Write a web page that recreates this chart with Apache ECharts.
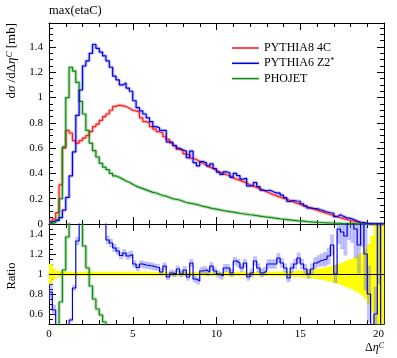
<!DOCTYPE html>
<html><head><meta charset="utf-8">
<script src="https://cdn.jsdelivr.net/npm/echarts@6/dist/echarts.min.js"></script>
<style>html,body{margin:0;padding:0;background:#fff}#c{width:397px;height:358px}</style>
</head><body><div id="c"></div>
<script>
// Binning: 100 bins of width 0.2 on Δη^C in [0, 20]
const binWidth = 0.2;
const nBins = 100;

const xTicks = [0, 5, 10, 15, 20];
const seriesNames = ['PYTHIA8 4C', 'PYTHIA6 Z2*', 'PHOJET'];

// PYTHIA8 4C (reference for the ratio)
const red = [
  0.02, 0.04, 0.09, 0.31, 0.60, 0.74, 0.72, 0.66, 0.64, 0.66, 0.68, 0.70, 0.73, 0.77, 0.79, 0.82, 0.85, 0.87, 0.90, 0.93,
  0.94, 0.935, 0.93, 0.915, 0.90, 0.895, 0.885, 0.84, 0.81, 0.80, 0.77, 0.75, 0.73, 0.72, 0.69, 0.67, 0.64, 0.62, 0.59, 0.58,
  0.555, 0.54, 0.52, 0.51, 0.495, 0.48, 0.465, 0.45, 0.44, 0.425, 0.41, 0.40, 0.39, 0.38, 0.365, 0.355, 0.345, 0.335, 0.325, 0.31,
  0.30, 0.29, 0.278, 0.265, 0.255, 0.243, 0.232, 0.222, 0.212, 0.205, 0.196, 0.186, 0.175, 0.165, 0.155, 0.145, 0.136, 0.127, 0.118, 0.110,
  0.100, 0.092, 0.083, 0.075, 0.066, 0.058, 0.050, 0.042, 0.035, 0.028, 0.022, 0.016, 0.011, 0.007, 0.004, 0.002, 0.001, 0.0005, 0.0002, 0.0001
];
// PYTHIA6 Z2*
const blue = [
  0.016, 0.026, 0.03, 0.05, 0.11, 0.21, 0.38, 0.57, 0.86, 1.06, 1.25, 1.29, 1.35, 1.42, 1.39, 1.36, 1.33, 1.29, 1.24, 1.17,
  1.14, 1.10, 1.115, 1.075, 1.05, 0.975, 0.92, 0.895, 0.87, 0.84, 0.81, 0.77, 0.76, 0.74, 0.74, 0.65, 0.645, 0.62, 0.60, 0.585,
  0.577, 0.524, 0.577, 0.485, 0.46, 0.494, 0.484, 0.459, 0.475, 0.438, 0.41, 0.392, 0.413, 0.403, 0.369, 0.401, 0.383, 0.355, 0.361, 0.301,
  0.303, 0.328, 0.295, 0.268, 0.263, 0.267, 0.255, 0.244, 0.246, 0.228, 0.208, 0.179, 0.186, 0.182, 0.180, 0.160, 0.143, 0.127, 0.124, 0.122,
  0.113, 0.105, 0.095, 0.089, 0.085, 0.058, 0.073, 0.060, 0.048, 0.045, 0.035, 0.023, 0.014, 0.012, 0.005, 0.0016, 0.0003, 0.0003, 0.0004, 0.0
];
// PHOJET
const green = [
  0.005, 0.01, 0.03, 0.20, 0.61, 1.00, 1.24, 1.21, 1.12, 0.97, 0.87, 0.74, 0.64, 0.58, 0.53, 0.48, 0.45, 0.43, 0.40, 0.38,
  0.37, 0.355, 0.34, 0.33, 0.315, 0.30, 0.29, 0.28, 0.27, 0.26, 0.25, 0.245, 0.235, 0.225, 0.22, 0.21, 0.20, 0.195, 0.19, 0.18,
  0.17, 0.165, 0.16, 0.155, 0.148, 0.14, 0.135, 0.128, 0.122, 0.117, 0.112, 0.107, 0.102, 0.098, 0.094, 0.09, 0.085, 0.081, 0.077, 0.073,
  0.07, 0.066, 0.062, 0.058, 0.055, 0.052, 0.048, 0.045, 0.041, 0.038, 0.035, 0.032, 0.029, 0.026, 0.024, 0.022, 0.019, 0.017, 0.015, 0.013,
  0.012, 0.010, 0.009, 0.008, 0.007, 0.006, 0.005, 0.004, 0.0035, 0.003, 0.0025, 0.002, 0.0015, 0.001, 0.0008, 0.0006, 0.0004, 0.0003, 0.0002, 0.0001
];
// Ratio panel
const blueRatio = [
  0.82, 0.64, 0.35, 0.20, 0.20, 0.30, 0.54, 0.86, 1.33, 1.60, 1.80, 1.80, 1.80, 1.80, 1.80, 1.70, 1.55, 1.34, 1.31, 1.26,
  1.23, 1.185, 1.21, 1.18, 1.195, 1.10, 1.065, 1.10, 1.09, 1.085, 1.08, 1.07, 1.065, 1.02, 1.08, 0.97, 1.01, 1.00, 1.05, 1.00,
  1.04, 0.97, 1.11, 0.95, 0.93, 1.03, 1.04, 1.02, 1.08, 1.03, 1.00, 0.98, 1.06, 1.06, 1.01, 1.13, 1.11, 1.06, 1.11, 0.97,
  1.01, 1.13, 1.06, 1.01, 1.03, 1.10, 1.10, 1.10, 1.16, 1.11, 1.06, 0.96, 1.06, 1.10, 1.16, 1.10, 1.05, 1.00, 1.05, 1.11,
  1.13, 1.14, 1.15, 1.18, 1.29, 1.00, 1.45, 1.42, 1.38, 1.60, 1.60, 1.45, 1.29, 1.70, 1.20, 0.80, 0.30, 0.60, 1.80, 0.30
];
const greenRatio = [
  0.30, 0.30, 0.30, 0.72, 1.04, 1.37, 1.70, 1.80, 1.75, 1.60, 1.28, 1.06, 0.88, 0.75, 0.65, 0.59, 0.52, 0.47, 0.43, 0.40
];
// relative uncertainty of the reference (yellow band)
const refErr = [
  0.10, 0.05, 0.03, 0.025, 0.02, 0.02, 0.02, 0.02, 0.02, 0.02, 0.02, 0.02, 0.02, 0.02, 0.02, 0.02, 0.02, 0.02, 0.02, 0.02,
  0.02, 0.02, 0.02, 0.02, 0.02, 0.02, 0.02, 0.02, 0.02, 0.02, 0.02, 0.02, 0.02, 0.02, 0.02, 0.02, 0.02, 0.02, 0.02, 0.02,
  0.02, 0.02, 0.02, 0.02, 0.02, 0.02, 0.02, 0.02, 0.02, 0.02, 0.02, 0.02, 0.02, 0.02, 0.02, 0.02, 0.02, 0.02, 0.02, 0.02,
  0.02, 0.02, 0.02, 0.02, 0.02, 0.02, 0.021, 0.021, 0.022, 0.022, 0.023, 0.024, 0.025, 0.027, 0.029, 0.031, 0.034, 0.038, 0.042, 0.046,
  0.05, 0.057, 0.064, 0.072, 0.08, 0.09, 0.10, 0.11, 0.125, 0.14, 0.15, 0.17, 0.19, 0.21, 0.25, 0.30, 0.38, 0.50, 0.60, 0.70
];
// relative uncertainty of PYTHIA6 Z2* (light blue bars in the ratio)
const blueErr = [
  0.10, 0.08, 0.06, 0.05, 0.04, 0.035, 0.03, 0.03, 0.03, 0.03, 0.03, 0.03, 0.03, 0.03, 0.03, 0.03, 0.03, 0.03, 0.03, 0.03,
  0.03, 0.03, 0.03, 0.03, 0.03, 0.03, 0.03, 0.03, 0.03, 0.03, 0.03, 0.03, 0.03, 0.03, 0.03, 0.03, 0.03, 0.03, 0.03, 0.03,
  0.035, 0.035, 0.035, 0.035, 0.035, 0.035, 0.035, 0.035, 0.035, 0.035, 0.035, 0.035, 0.035, 0.035, 0.035, 0.035, 0.035, 0.035, 0.035, 0.035,
  0.04, 0.04, 0.04, 0.04, 0.04, 0.04, 0.04, 0.04, 0.04, 0.04, 0.04, 0.04, 0.045, 0.045, 0.045, 0.045, 0.045, 0.045, 0.05, 0.05,
  0.05, 0.055, 0.06, 0.07, 0.08, 0.09, 0.10, 0.12, 0.14, 0.16, 0.18, 0.20, 0.22, 0.25, 0.30, 0.35, 0.40, 0.45, 0.50, 0.60
];

const edges = [];
for (let i = 0; i <= nBins; i++) edges.push(Math.round(i * binWidth * 10) / 10);

function steps(vals) {
  const d = vals.map((v, i) => [edges[i], v]);
  d.push([edges[vals.length], vals[vals.length - 1]]);
  return d;
}
const yellowData = refErr.map((e, i) => [edges[i], edges[i + 1], 1 - e, 1 + e]);
const blueBandData = blueRatio.map((r, i) => [edges[i], edges[i + 1], r * (1 - blueErr[i]), r * (1 + blueErr[i])]);

function rectItem(fill) {
  return function (params, api) {
    const a = api.coord([api.value(0), api.value(3)]);
    const b = api.coord([api.value(1), api.value(2)]);
    const cs = params.coordSys;
    const shape = echarts.graphic.clipRectByRect(
      { x: a[0], y: a[1], width: b[0] - a[0], height: b[1] - a[1] },
      { x: cs.x, y: cs.y, width: cs.width, height: cs.height });
    if (!shape) return null;
    return { type: 'rect', shape: shape, style: { fill: fill, stroke: fill, lineWidth: 0.4 } };
  };
}

const FONT = 'Liberation Serif';
const tickStyle = { color: '#000', width: 1 };
function xAx(grid, pos, labels) {
  return {
    type: 'value', gridIndex: grid, position: pos, min: 0, max: 20, interval: 5,
    axisLine: { show: true, onZero: false, lineStyle: { color: '#000', width: 1 } },
    axisTick: { show: true, inside: true, length: 7, lineStyle: tickStyle },
    minorTick: { show: true, splitNumber: 5, length: 4, lineStyle: tickStyle },
    axisLabel: { show: labels, fontFamily: FONT, fontSize: 11, color: '#000', margin: 5, alignMaxLabel: 'right',
      formatter: v => (xTicks.indexOf(v) >= 0 ? String(v) : '') },
    splitLine: { show: false }, minorSplitLine: { show: false }
  };
}
function yAx(grid, pos, labels, extra) {
  return Object.assign({
    type: 'value', gridIndex: grid, position: pos,
    axisLine: { show: true, onZero: false, lineStyle: { color: '#000', width: 1 } },
    axisTick: { show: true, inside: true, length: 7, lineStyle: tickStyle },
    minorTick: { show: true, splitNumber: 4, length: 4, lineStyle: tickStyle },
    axisLabel: { show: labels, fontFamily: FONT, fontSize: 11, color: '#000', margin: 6, showMaxLabel: false },
    splitLine: { show: false }, minorSplitLine: { show: false }
  }, extra);
}

function histLine(name, data, color, xi, yi, z) {
  return {
    type: 'line', name: name, xAxisIndex: xi, yAxisIndex: yi, data: steps(data), step: 'end',
    showSymbol: false, symbol: 'none', clip: true, z: z,
    lineStyle: { color: color, width: 1.2 }, itemStyle: { color: color }
  };
}
function halo(data, color, xi, yi) {
  return {
    type: 'line', name: '_halo', xAxisIndex: xi, yAxisIndex: yi, data: steps(data), step: 'end',
    showSymbol: false, symbol: 'none', clip: true, z: 2, silent: true,
    lineStyle: { color: color, width: 3.4 }
  };
}

const chart = echarts.init(document.getElementById('c'), null, { renderer: 'canvas' });
chart.setOption({
  animation: false,
  backgroundColor: '#fff',
  grid: [
    { left: 49, top: 23, width: 335, height: 201, outerBoundsMode: 'none' },
    { left: 49, top: 224, width: 335, height: 100, outerBoundsMode: 'none' }
  ],
  xAxis: [xAx(0, 'bottom', false), xAx(0, 'top', false), xAx(1, 'bottom', true), xAx(1, 'top', false)],
  yAxis: [
    yAx(0, 'left', true, { min: 0, max: 1.59, interval: 0.2 }),
    yAx(0, 'right', false, { min: 0, max: 1.59, interval: 0.2 }),
    yAx(1, 'left', true, { min: 0.5, max: 1.5, splitNumber: 5, axisLabel: { show: true, fontFamily: FONT, fontSize: 11, color: '#000', margin: 6, showMinLabel: false, showMaxLabel: false } }),
    yAx(1, 'right', false, { min: 0.5, max: 1.5, splitNumber: 5 })
  ],
  legend: {
    data: seriesNames, orient: 'vertical', left: 227, top: 37, itemWidth: 27, itemHeight: 1.6, itemGap: 3.3,
    icon: 'rect', selectedMode: false,
    textStyle: { fontFamily: FONT, fontSize: 12, color: '#000', lineHeight: 12,
      rich: { sup: { fontFamily: FONT, fontSize: 8, verticalAlign: 'top', lineHeight: 12, color: '#000' } } },
    formatter: n => n.replace('*', '{sup|*}')
  },
  series: [
    halo(red, 'rgba(255,80,80,0.35)', 0, 0),
    halo(blue, 'rgba(90,90,255,0.35)', 0, 0),
    halo(green, 'rgba(60,160,60,0.35)', 0, 0),
    histLine('PYTHIA8 4C', red, '#ff1a1a', 0, 0, 3),
    histLine('PYTHIA6 Z2*', blue, '#0000e6', 0, 0, 4),
    histLine('PHOJET', green, '#118811', 0, 0, 3),
    { type: 'custom', name: '_ref', xAxisIndex: 2, yAxisIndex: 2, renderItem: rectItem('#ffff00'), data: yellowData,
      encode: { x: [0, 1], y: [2, 3] }, z: 1, silent: true,
      markLine: { silent: true, symbol: 'none', label: { show: false }, data: [{ yAxis: 1 }],
        lineStyle: { color: '#000', width: 1, type: 'solid' } } },
    { type: 'custom', name: '_bband', xAxisIndex: 2, yAxisIndex: 2, renderItem: rectItem('rgba(100,100,255,0.38)'), data: blueBandData,
      encode: { x: [0, 1], y: [2, 3] }, z: 2, silent: true },
    histLine('_br', blueRatio, '#0000e6', 2, 2, 4),
    halo(greenRatio, 'rgba(60,160,60,0.35)', 2, 2),
    histLine('_gr', greenRatio, '#118811', 2, 2, 3)
  ],
  graphic: [
    { type: 'text', left: 49, top: 4, style: { text: 'max(etaC)', font: '12.5px "Liberation Serif"', fill: '#000' } },
    { type: 'text', x: 12, y: 23, rotation: Math.PI / 2,
      style: { text: 'd{i|σ} /dΔ{i|η}{sup|C} [mb]', font: '13px "Liberation Serif"', fill: '#000', align: 'right', verticalAlign: 'middle',
        rich: { i: { fontFamily: FONT, fontSize: 13, fontStyle: 'italic' }, sup: { fontFamily: FONT, fontSize: 9, fontStyle: 'italic', verticalAlign: 'top', lineHeight: 13 } } } },
    { type: 'text', x: 12, y: 276, rotation: Math.PI / 2,
      style: { text: 'Ratio', font: '12.5px "Liberation Serif"', fill: '#000', align: 'center', verticalAlign: 'middle' } },
    { type: 'text', x: 384, y: 348,
      style: { text: 'Δ{i|η}{sup|C}', font: '12px "Liberation Serif"', fill: '#000', align: 'right', verticalAlign: 'middle',
        rich: { i: { fontFamily: FONT, fontSize: 12, fontStyle: 'italic' }, sup: { fontFamily: FONT, fontSize: 8, fontStyle: 'italic', verticalAlign: 'top', lineHeight: 12 } } } }
  ]
});
</script></body></html>
